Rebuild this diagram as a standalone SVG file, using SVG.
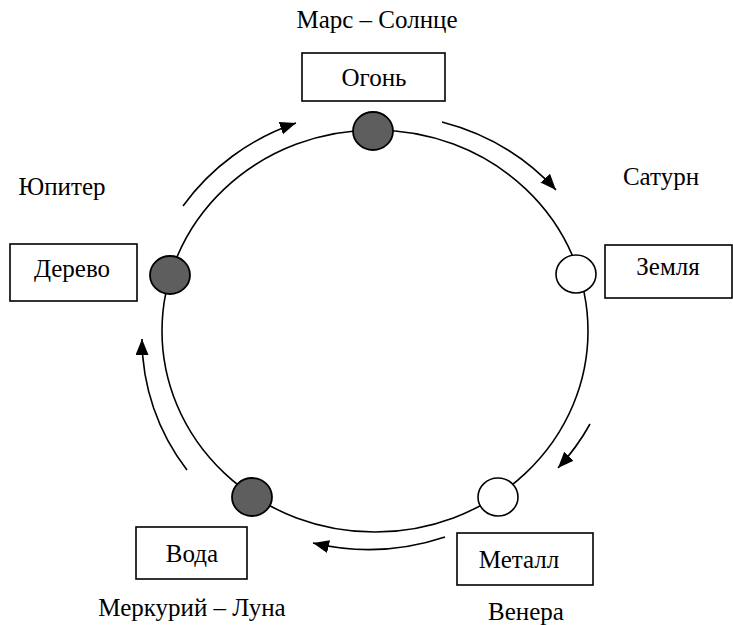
<svg xmlns="http://www.w3.org/2000/svg" width="733" height="625" viewBox="0 0 733 625">
<style>
.box{fill:#fff;stroke:#000;stroke-width:1.6}
.lbl{font-family:"Liberation Serif","Times New Roman",serif;font-size:25px;fill:#000;text-anchor:middle}
.dark{fill:#5e5e5e;stroke:#000;stroke-width:1.8}
.light{fill:#fff;stroke:#000;stroke-width:1.6}
.arr{fill:none;stroke:#000;stroke-width:1.6;marker-end:url(#ah)}
</style>
<defs>
<marker id="ah" markerUnits="userSpaceOnUse" markerWidth="18" markerHeight="14" refX="16" refY="6.5" orient="auto">
<path d="M0,0 L16,6.5 L0,13 z" fill="#000"/>
</marker>
</defs>
<rect width="733" height="625" fill="#fff"/>
<ellipse cx="375" cy="331" rx="213" ry="201" fill="none" stroke="#000" stroke-width="1.6"/>
<g id="connectors">
<path class="arr" d="M183,206 A232,222 0 0 1 296,123"/>
<path class="arr" d="M442,122 A232,222 0 0 1 556,190"/>
<path class="arr" d="M590,424 A232,222 0 0 1 558,468"/>
<path class="arr" d="M445,537 A232,222 0 0 1 313,543"/>
<path class="arr" d="M187,470 A232,222 0 0 1 142,339"/>
</g>
<g id="fire">
<ellipse class="dark" cx="373" cy="131" rx="20" ry="19"/>
<rect class="box" x="302" y="53" width="143" height="48"/>
<text class="lbl" x="374" y="86">Огонь</text>
<text class="lbl" x="377" y="28">Марс – Солнце</text>
</g>
<g id="wood">
<ellipse class="dark" cx="170" cy="275" rx="20" ry="19"/>
<rect class="box" x="10" y="244" width="127" height="57"/>
<text class="lbl" x="72" y="277">Дерево</text>
<text class="lbl" x="62" y="195">Юпитер</text>
</g>
<g id="earth">
<ellipse class="light" cx="576" cy="274" rx="20" ry="19"/>
<rect class="box" x="605" y="245" width="127" height="53"/>
<text class="lbl" x="668" y="275">Земля</text>
<text class="lbl" x="661" y="185">Сатурн</text>
</g>
<g id="metal">
<ellipse class="light" cx="498" cy="497" rx="20" ry="19"/>
<rect class="box" x="457" y="533" width="136" height="52"/>
<text class="lbl" x="519" y="568">Металл</text>
<text class="lbl" x="526" y="620">Венера</text>
</g>
<g id="water">
<ellipse class="dark" cx="252" cy="497" rx="20" ry="19"/>
<rect class="box" x="136" y="527" width="111" height="52"/>
<text class="lbl" x="192" y="562">Вода</text>
<text class="lbl" x="192" y="616">Меркурий – Луна</text>
</g>
</svg>
